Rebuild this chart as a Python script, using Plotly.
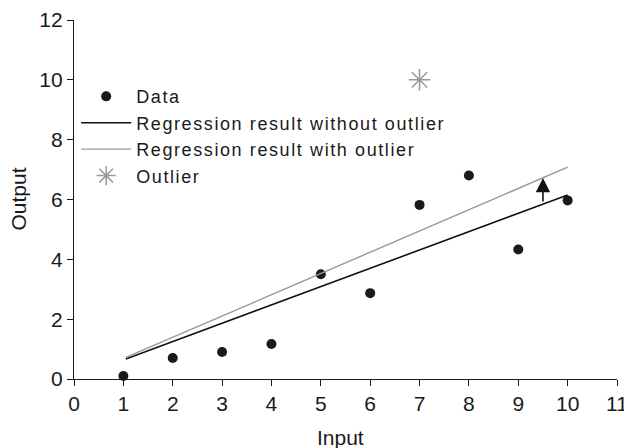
import plotly.graph_objects as go

# Data
input_x = [1, 2, 3, 4, 5, 6, 7, 8, 9, 10]
output_y = [0.1, 0.7, 0.9, 1.17, 3.5, 2.87, 5.82, 6.8, 4.33, 5.97]
outlier_x = [7]
outlier_y = [10.0]
fit_x = [1.05, 10]
fit_without = [0.67, 6.15]
fit_with = [0.72, 7.08]
arrow_x = 9.5
arrow_from = 5.88
arrow_to = 6.72
x_ticks = list(range(0, 12))
y_ticks = list(range(0, 13, 2))
legend_names = ["Data", "Regression result without outlier",
                "Regression result with outlier", "Outlier"]


def lbl(s):
    return "<span style='letter-spacing:1.6px'>" + s + "</span>"


fig = go.Figure()
fig.add_trace(go.Scatter(x=input_x, y=output_y, mode="markers", name=lbl(legend_names[0]),
                         marker=dict(color="#1a1a1a", size=10, symbol="circle"), cliponaxis=False))
fig.add_trace(go.Scatter(x=fit_x, y=fit_without, mode="lines", name=lbl(legend_names[1]),
                         line=dict(color="#111111", width=1.6)))
fig.add_trace(go.Scatter(x=fit_x, y=fit_with, mode="lines", name=lbl(legend_names[2]),
                         line=dict(color="#999999", width=1.4)))
fig.add_trace(go.Scatter(x=outlier_x, y=outlier_y, mode="markers", name=lbl(legend_names[3]),
                         marker=dict(color="#999999", size=18, symbol="asterisk-open",
                                     line=dict(color="#999999", width=1.5))))

fig.add_annotation(x=arrow_x, y=arrow_to, ax=arrow_x, ay=arrow_from, xref="x", yref="y",
                   axref="x", ayref="y", showarrow=True, arrowhead=2, arrowsize=1.8,
                   arrowwidth=1.6, arrowcolor="#111111", text="")

fig.add_annotation(text="Input", x=0.5, y=0, xref="paper", yref="paper", showarrow=False,
                   xanchor="center", yanchor="middle", yshift=-58, xshift=-5,
                   font=dict(size=21))
fig.add_annotation(text="Output", x=0, y=0.5, xref="paper", yref="paper", showarrow=False,
                   xanchor="center", yanchor="middle", xshift=-56, textangle=-90,
                   font=dict(size=21))

font_family = "Liberation Sans, Arial, sans-serif"
# page body has an 8px margin, so the figure is shrunk by 8px to keep the plot area in place
fig.update_layout(
    width=624, height=440,
    margin=dict(l=66, r=15, t=12, b=69),
    paper_bgcolor="white", plot_bgcolor="white",
    font=dict(family=font_family, size=21, color="#1a1a1a"),
    showlegend=True,
    legend=dict(x=0.004, y=0.838, xanchor="left", yanchor="top", bgcolor="rgba(0,0,0,0)",
                font=dict(size=18), itemwidth=50, tracegroupgap=0),
    xaxis=dict(range=[0, 11], tickmode="array", tickvals=x_ticks, automargin=False,
               showline=True, linecolor="#1a1a1a", linewidth=1.2, ticks="outside",
               ticklen=6, tickcolor="#1a1a1a", showgrid=False, zeroline=False,
               tickfont=dict(size=21)),
    yaxis=dict(range=[0, 12], tickmode="array", tickvals=y_ticks, automargin=False,
               showline=True, linecolor="#1a1a1a", linewidth=1.2, ticks="outside",
               ticklen=6, tickcolor="#1a1a1a", showgrid=False, zeroline=False,
               tickfont=dict(size=21)),
)

fig.write_html("out.html")
